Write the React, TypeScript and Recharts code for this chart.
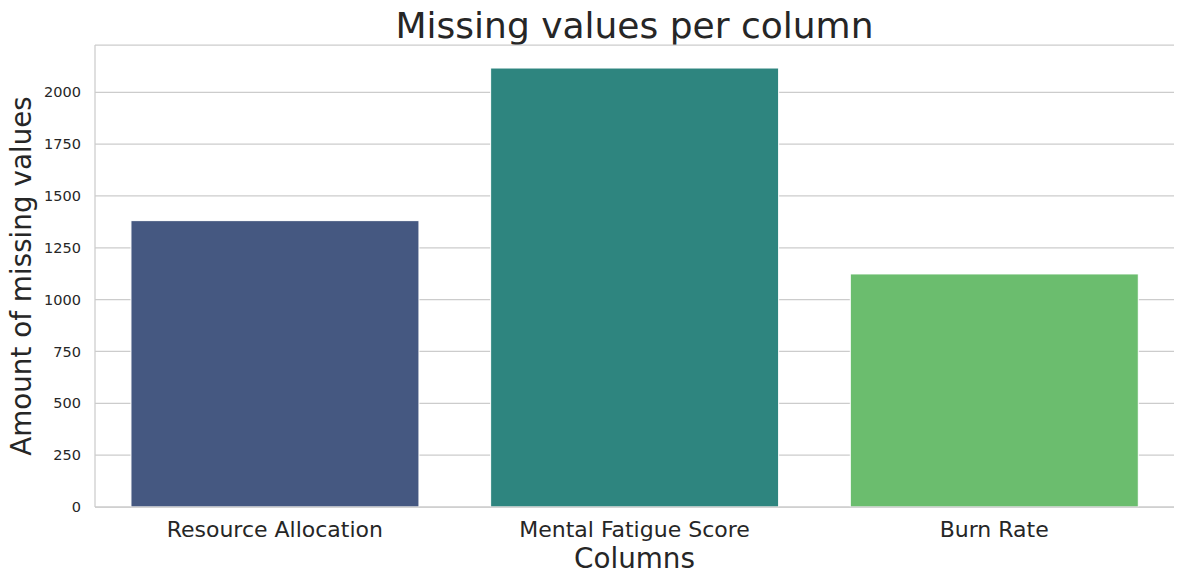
import { BarChart, Bar, XAxis, YAxis, CartesianGrid, Cell } from "recharts";

const columns = ["Resource Allocation", "Mental Fatigue Score", "Burn Rate"];
const missingCounts = [1381, 2117, 1124];
const barColors = ["#455881", "#2e857f", "#6bbd6e"];
const yTicks = [0, 250, 500, 750, 1000, 1250, 1500, 1750, 2000];

const data = columns.map((name, i) => ({ name, missing: missingCounts[i] }));

const FONT = "DejaVu Sans";
const TEXT = "#262626";
const GRID = "#cccccc";

const App = () => {
  return (
    <div style={{ position: "absolute", left: 0, top: 0, width: 1184, height: 584, fontFamily: FONT }}>
      <div
        style={{
          position: "absolute",
          left: 95,
          top: 7.5,
          width: 1079,
          textAlign: "center",
          fontSize: 36,
          lineHeight: "36px",
          color: TEXT,
          whiteSpace: "nowrap",
        }}
      >
        Missing values per column
      </div>
      <BarChart
        width={1184}
        height={584}
        data={data}
        margin={{ top: 45, right: 10, left: 0, bottom: 0 }}
        barCategoryGap="10%"
      >
        <CartesianGrid vertical={false} stroke={GRID} strokeWidth={1.25} />
        <XAxis
          dataKey="name"
          height={77}
          stroke={GRID}
          strokeWidth={1.25}
          tickLine={false}
          tickSize={0}
          tickMargin={14}
          tick={{ fill: TEXT, fontSize: 22, fontFamily: FONT }}
          label={{
            content: ({ viewBox }: any) => (
              <text
                x={viewBox.x + viewBox.width / 2}
                y={viewBox.y + 61}
                textAnchor="middle"
                fill={TEXT}
                fontSize={27.8}
                fontFamily={FONT}
              >
                Columns
              </text>
            ),
          }}
        />
        <XAxis
          xAxisId="top"
          orientation="top"
          dataKey="name"
          height={0}
          tick={false}
          tickLine={false}
          stroke={GRID}
          strokeWidth={1.25}
        />
        <YAxis
          width={95}
          domain={[0, 2228]}
          ticks={yTicks}
          interval={0}
          stroke={GRID}
          strokeWidth={1.25}
          tickLine={false}
          tickSize={0}
          tickMargin={14}
          tick={{ fill: TEXT, fontSize: 14.5, fontFamily: FONT }}
          label={{
            content: ({ viewBox }: any) => {
              const cy = viewBox.y + viewBox.height / 2;
              return (
                <text
                  x={21}
                  y={cy}
                  transform={`rotate(-90, 21, ${cy})`}
                  textAnchor="middle"
                  dominantBaseline="central"
                  fill={TEXT}
                  fontSize={27.8}
                  fontFamily={FONT}
                >
                  Amount of missing values
                </text>
              );
            },
          }}
        />
        <YAxis
          yAxisId="right"
          orientation="right"
          width={0}
          domain={[0, 2228]}
          tick={false}
          tickLine={false}
          stroke={GRID}
          strokeWidth={1.25}
        />
        <Bar dataKey="missing" stroke="#ffffff" strokeWidth={1} isAnimationActive={false}>
          {data.map((d, i) => (
            <Cell key={d.name} fill={barColors[i]} />
          ))}
        </Bar>
      </BarChart>
    </div>
  );
};

export default App;
